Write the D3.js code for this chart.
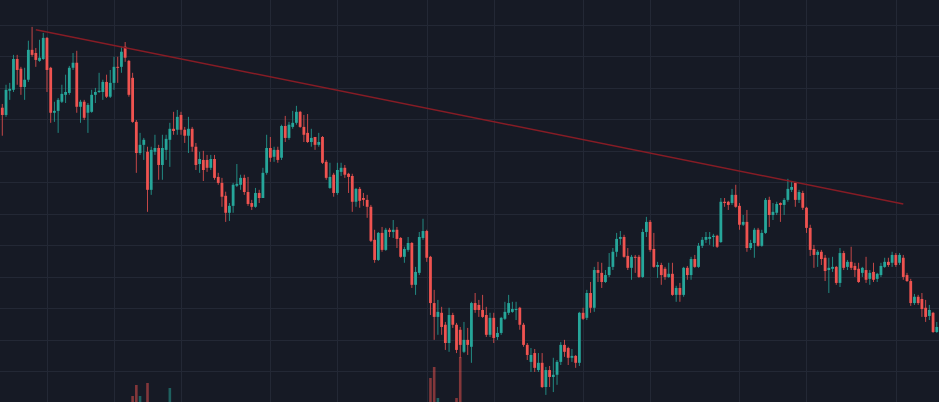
<!DOCTYPE html>
<html>
<head>
<meta charset="utf-8">
<script src="https://cdn.jsdelivr.net/npm/d3@7"></script>
<style>
html, body { margin: 0; padding: 0; background: #161a25; overflow: hidden; }
</style>
</head>
<body>
<div id="chart"></div>
<script>
"use strict";

// OHLC prices, one entry per candle
var open = [
183.7,181.4,189.1,189.4,199.2,196.1,190.3,192.6,202.1,201.1,
198.6,199.2,205.9,196.4,182.1,182.7,185.6,187.8,188.4,196.4,
198.0,184.0,185.6,182.1,182.4,187.8,188.7,188.7,191.9,187.2,
191.6,196.7,196.7,203.1,198.6,193.2,179.2,169.3,171.9,169.7,
157.6,169.7,170.9,165.5,170.3,173.5,177.0,176.7,181.4,176.7,
174.8,177.0,171.3,165.8,167.1,167.1,164.6,167.4,161.7,159.8,
155.7,150.3,152.5,158.9,159.2,161.4,156.9,153.4,152.2,156.6,
155.0,163.0,170.9,168.1,170.3,167.8,177.9,174.1,177.6,178.9,
182.4,177.6,175.7,172.8,174.4,171.9,174.4,166.5,158.2,162.4,
156.6,163.3,164.6,162.7,162.0,153.8,157.9,155.0,154.4,152.2,
141.7,135.3,143.9,138.5,144.9,144.2,144.9,142.3,136.3,138.5,
140.7,127.4,131.2,142.3,144.5,136.3,121.6,117.2,118.5,114.7,
108.9,117.8,114.7,113.1,106.1,109.9,107.7,121.6,121.0,119.4,
117.8,111.5,116.9,110.8,112.1,116.6,118.5,118.8,119.4,120.1,
114.7,108.3,102.9,105.7,100.3,102.6,94.9,100.3,98.1,98.8,
102.9,108.3,107.3,104.2,104.8,102.6,118.5,116.9,124.8,120.1,
132.1,131.2,128.3,130.5,133.1,137.9,142.0,142.6,136.6,132.8,
136.3,136.3,129.9,144.2,147.4,138.8,133.1,133.7,132.5,129.9,
130.9,124.2,126.4,124.2,132.8,130.5,135.6,133.1,139.8,141.7,
142.0,142.6,143.0,141.0,153.8,153.8,153.4,156.0,152.5,146.5,
147.4,139.1,140.7,144.9,139.8,143.9,154.4,149.6,150.3,153.4,
152.8,154.4,157.6,159.8,154.4,156.6,151.9,145.5,138.8,136.9,
137.9,136.0,132.1,132.5,133.1,128.0,137.5,133.1,134.7,133.4,
132.5,131.2,132.1,129.3,131.5,129.3,130.5,133.1,134.7,134.4,
136.9,134.4,136.0,130.5,128.6,121.6,123.6,122.9,120.1,117.5,
118.5,112.4
];

var high = [
184.9,191.0,191.6,200.5,200.5,196.7,196.4,205.0,209.4,202.7,
205.3,207.5,206.2,196.7,185.6,186.8,191.0,194.2,197.0,201.1,
201.8,186.2,186.2,185.2,189.4,190.0,194.8,192.6,194.2,195.7,
199.9,199.9,203.1,204.6,198.9,194.8,179.8,175.7,174.1,171.3,
171.3,175.1,171.9,175.1,175.1,178.9,182.4,183.0,182.4,177.6,
180.8,177.6,172.5,169.7,170.0,168.7,168.7,168.7,163.0,161.4,
157.0,153.4,159.8,165.8,162.4,162.4,161.7,154.4,158.2,157.6,
164.6,175.1,174.4,171.3,171.3,178.3,181.1,179.2,182.7,184.3,
182.7,181.4,181.7,177.0,174.4,175.7,174.7,167.1,166.2,163.0,
166.2,166.2,165.5,163.0,162.7,158.2,158.5,156.6,156.0,152.8,
144.9,144.2,145.8,145.5,145.5,148.0,145.8,142.6,139.5,142.6,
141.0,133.1,144.2,148.4,144.9,136.6,125.8,122.6,120.4,115.6,
120.1,118.5,115.3,114.0,115.6,113.7,122.0,124.8,122.6,124.2,
120.4,118.5,118.5,114.0,117.2,122.0,124.2,122.0,122.0,120.4,
115.3,108.9,107.3,107.0,105.7,105.7,101.3,101.6,104.2,103.5,
109.2,109.9,107.7,107.0,105.1,118.8,120.1,125.8,128.3,133.1,
134.7,134.4,132.1,137.5,139.1,143.9,144.5,143.3,139.1,136.9,
136.9,136.9,145.2,149.0,148.0,143.9,134.7,134.4,133.1,134.4,
134.4,127.1,128.0,133.1,133.4,136.3,136.9,140.7,142.6,144.2,
144.2,143.6,143.3,155.0,155.0,154.1,157.9,159.2,153.4,149.6,
151.2,141.7,145.5,145.5,144.9,155.0,155.4,153.4,153.8,153.6,
155.0,161.1,160.4,160.1,157.6,157.3,152.2,146.5,140.1,138.5,
138.5,136.9,136.0,136.3,133.4,139.1,138.2,135.3,139.5,134.4,
134.4,133.1,136.3,132.1,134.4,131.2,134.4,136.0,136.0,137.9,
137.5,137.5,136.9,131.2,129.3,124.5,124.2,124.8,122.6,121.0,
118.8,115.6
];

var low = [
174.8,180.8,186.2,188.7,191.0,187.8,186.2,191.9,199.9,196.7,
198.3,198.9,188.7,178.9,179.2,175.7,185.2,185.2,187.8,195.7,
182.1,178.9,179.8,175.7,182.1,185.2,188.4,186.2,186.8,186.8,
189.4,191.6,194.8,198.3,187.2,178.9,163.0,168.7,167.1,150.6,
156.0,168.7,160.8,160.8,167.1,164.9,175.1,175.1,175.1,172.5,
169.3,169.7,163.9,163.0,160.4,163.3,163.9,160.8,159.2,152.2,
147.4,147.7,150.3,158.5,157.6,156.0,152.5,151.2,151.9,153.4,
155.0,162.4,166.5,166.5,166.2,167.1,172.8,173.5,177.0,178.3,
177.3,172.8,172.5,171.3,170.3,171.3,165.8,160.8,157.9,155.4,
156.0,162.0,161.4,156.6,150.6,152.2,151.9,152.5,148.7,141.0,
134.4,135.0,137.9,138.2,142.6,142.3,139.1,136.0,134.4,137.9,
126.4,124.2,130.5,141.7,134.7,117.8,109.9,111.5,111.5,106.7,
106.1,113.7,105.7,104.2,105.7,105.1,102.6,118.5,117.2,116.9,
110.8,110.8,108.9,109.9,111.5,116.2,117.8,118.5,116.2,113.1,
107.7,103.5,99.7,99.7,99.7,94.6,92.4,94.9,93.3,95.6,
101.9,104.5,101.9,102.9,101.0,101.6,116.2,116.2,118.5,118.8,
128.3,126.4,128.0,129.9,132.1,136.3,140.1,136.0,132.1,129.0,
131.2,129.6,129.6,142.6,137.9,132.8,129.6,127.4,129.0,129.6,
123.9,122.0,122.0,123.6,129.0,129.0,132.8,132.8,139.1,140.7,
140.1,139.5,139.1,140.7,152.2,151.2,152.8,151.9,144.9,146.1,
137.9,138.5,136.0,139.5,139.5,143.6,145.8,148.0,149.6,147.4,
149.6,153.8,156.9,152.2,153.4,151.2,143.9,136.6,132.8,133.1,
133.7,128.6,124.8,131.5,127.4,126.7,132.1,132.1,132.1,129.9,
128.0,129.9,128.0,127.4,128.3,128.3,129.9,132.8,133.1,133.1,
133.1,133.7,129.0,128.3,120.7,121.0,121.0,117.2,115.6,116.2,
112.1,112.1
];

var close = [
181.4,189.4,189.7,199.2,195.7,190.3,192.6,202.1,200.5,198.9,
199.6,205.9,195.7,182.1,182.7,186.2,188.1,188.7,196.4,198.0,
184.0,185.6,180.5,184.6,187.8,188.7,189.1,191.9,187.2,191.6,
196.7,196.4,201.5,199.6,187.8,179.2,169.3,171.9,173.5,157.6,
170.3,170.9,165.5,170.9,173.8,177.0,176.3,180.8,176.7,174.8,
177.0,171.3,165.5,167.4,163.9,164.6,167.4,161.4,159.8,155.4,
150.3,152.5,159.2,159.5,161.4,156.9,153.1,152.2,156.6,155.0,
163.0,170.9,167.8,170.3,167.1,177.9,174.1,178.3,178.9,182.4,
177.6,175.1,172.8,174.1,171.9,172.8,166.2,161.4,161.7,156.6,
163.9,164.6,162.4,161.7,153.8,157.9,154.1,154.4,152.2,141.4,
135.3,143.9,138.5,144.9,144.2,144.9,142.0,136.3,138.8,140.7,
127.4,131.5,142.6,144.5,136.0,121.6,117.2,118.8,114.0,108.9,
117.8,114.7,106.7,108.3,109.9,108.3,121.6,119.4,119.4,117.2,
111.5,116.9,110.5,112.1,116.9,118.8,121.6,119.7,119.7,114.7,
108.3,105.1,105.1,101.0,102.6,94.9,100.3,98.1,98.8,102.9,
108.3,106.1,104.2,104.8,102.6,118.5,116.6,124.8,120.1,132.1,
131.2,128.3,130.5,133.1,137.9,142.0,142.6,136.3,132.8,136.3,
136.0,129.9,144.2,147.4,138.5,133.1,133.7,130.5,129.9,130.9,
124.2,126.4,124.2,132.8,130.5,135.6,133.1,139.8,141.7,142.6,
142.6,143.0,139.5,153.8,153.4,152.8,156.0,152.2,146.5,147.4,
139.1,140.7,144.9,139.8,143.9,154.4,149.6,150.6,153.1,152.8,
154.4,157.9,158.5,154.4,156.9,151.9,145.5,138.5,136.9,137.9,
135.6,131.8,132.8,133.1,128.0,137.5,132.8,134.7,132.8,132.1,
128.3,132.8,129.0,131.2,129.0,130.9,133.4,134.7,133.7,136.9,
133.7,136.9,129.9,128.6,121.6,123.6,121.6,119.7,117.2,119.4,
112.4,114.0
];

// volume (most bars stay under the cropped bottom edge)
var volume = [
14,12,18,16,20,15,13,17,22,16,
12,15,21,24,18,14,11,13,17,12,
19,14,16,18,12,10,11,13,15,12,
14,12,16,18,20,34,45,34,26,47,
25,15,18,17,16,42,14,15,13,12,
16,14,18,12,15,11,10,14,13,17,
20,16,18,14,11,13,15,9,12,10,
14,19,12,10,11,18,14,12,10,13,
12,11,13,9,10,8,14,16,15,17,
18,12,10,9,17,13,11,9,12,24,
22,18,15,13,10,9,12,14,11,10,
25,21,19,14,20,52,63,32,24,26,
27,20,32,73,22,18,27,16,12,14,
15,13,14,10,12,11,13,9,10,14,
17,15,16,13,14,22,19,14,13,15,
17,12,11,9,10,26,13,18,14,22,
12,13,10,12,14,16,11,15,13,12,
10,13,21,17,19,16,10,12,9,10,
15,11,10,14,9,11,10,13,11,9,
8,9,10,24,12,9,11,13,16,10,
18,11,13,12,10,20,15,10,11,9,
10,14,10,13,9,11,16,18,12,10,
11,14,17,10,12,16,11,9,10,9,
11,9,12,8,10,9,11,10,9,12,
10,11,15,10,19,12,9,13,14,11,
18,14
];

// candle indexes where the time axis puts its (cropped) labels
var timeTicks = [12, 30, 48, 72, 90, 114, 132, 156, 174, 198, 216, 240];
// price levels of the (cropped) price axis
var priceTicks = d3.range(90, 221, 10);

// trend line drawn over the two highs
var trendIdx = [9, 242];
var trendPrice = [208.5, 153.1];

var width = 939;
var height = 402;

var upColor = "#26a69a";
var downColor = "#ef5350";

var data = open.map(function(o, i) {
	return { i: i, o: o, h: high[i], l: low[i], c: close[i], v: volume[i] };
});

var svg = d3.select("#chart").append("svg")
	.attr("width", width)
	.attr("height", height)
	.style("display", "block");

svg.append("rect")
	.attr("width", width)
	.attr("height", height)
	.attr("fill", "#161a25");

var x = d3.scaleLinear()
	.domain([0, data.length - 1])
	.range([2.3, 936.8]);

var y = d3.scaleLinear()
	.domain([100, 210])
	.range([371, 25]);

var vol = d3.scaleLinear()
	.domain([0, 100])
	.range([430, 330]);

// grid
var grid = svg.append("g")
	.attr("stroke", "#232835")
	.attr("stroke-width", 1)
	.attr("shape-rendering", "crispEdges");

grid.selectAll("line.h")
	.data(priceTicks)
	.enter().append("line")
	.attr("class", "h")
	.attr("x1", 0).attr("x2", width)
	.attr("y1", function(d) { return Math.round(y(d)) + 0.5; })
	.attr("y2", function(d) { return Math.round(y(d)) + 0.5; });

grid.selectAll("line.v")
	.data(timeTicks)
	.enter().append("line")
	.attr("class", "v")
	.attr("y1", 0).attr("y2", height)
	.attr("x1", function(d) { return Math.round(x(d)) + 0.5; })
	.attr("x2", function(d) { return Math.round(x(d)) + 0.5; });

// volume
svg.append("g").selectAll("rect")
	.data(data)
	.enter().append("rect")
	.attr("x", function(d) { return x(d.i) - 1.3; })
	.attr("width", 2.6)
	.attr("y", function(d) { return vol(d.v); })
	.attr("height", function(d) { return vol(0) - vol(d.v); })
	.attr("fill", function(d) { return d.c >= d.o ? upColor : downColor; })
	.attr("fill-opacity", 0.5);

// wicks
svg.append("g").selectAll("line")
	.data(data)
	.enter().append("line")
	.attr("x1", function(d) { return x(d.i); })
	.attr("x2", function(d) { return x(d.i); })
	.attr("y1", function(d) { return y(d.h); })
	.attr("y2", function(d) { return y(d.l); })
	.attr("stroke", function(d) { return d.c >= d.o ? upColor : downColor; })
	.attr("stroke-width", 1)
	.attr("stroke-opacity", 0.8);

// bodies
svg.append("g").selectAll("rect")
	.data(data)
	.enter().append("rect")
	.attr("x", function(d) { return x(d.i) - 1.4; })
	.attr("width", 2.8)
	.attr("y", function(d) { return y(Math.max(d.o, d.c)); })
	.attr("height", function(d) { return Math.max(1, Math.abs(y(d.o) - y(d.c))); })
	.attr("fill", function(d) { return d.c >= d.o ? upColor : downColor; });

// trend line
var trend = trendIdx.map(function(t, k) { return [x(t), y(trendPrice[k])]; });
svg.append("path")
	.attr("d", d3.line()(trend))
	.attr("fill", "none")
	.attr("stroke", "#861c25")
	.attr("stroke-width", 1.5);
</script>
</body>
</html>
